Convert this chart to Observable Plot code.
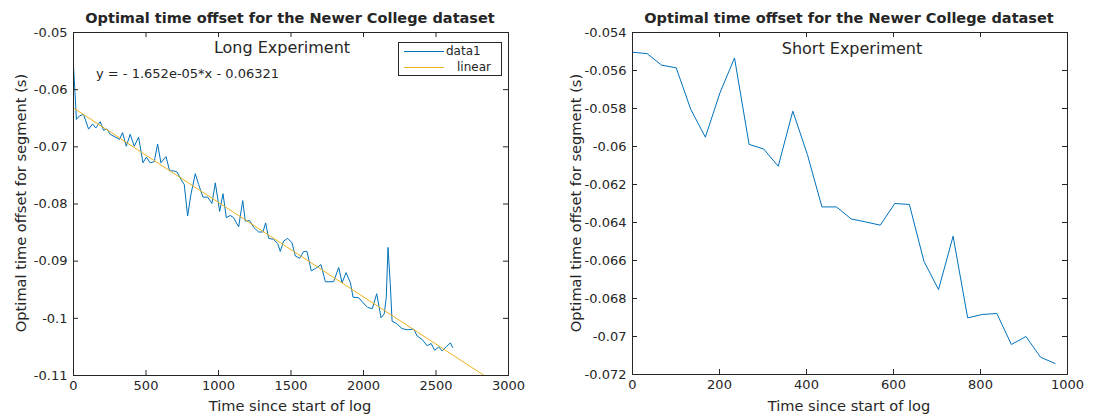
<!DOCTYPE html>
<html>
<head>
<meta charset="utf-8">
<script src="https://cdn.jsdelivr.net/npm/d3@7"></script>
<script src="https://cdn.jsdelivr.net/npm/@observablehq/plot@0.6"></script>
<style>
  html, body { margin: 0; padding: 0; background: #fff; }
  #root { position: relative; width: 1120px; height: 420px; background: #fff; font-family: "DejaVu Sans", sans-serif; color: #262626; overflow: hidden; }
  #root svg { position: absolute; top: 0; }
  .t { position: absolute; white-space: nowrap; }
  .title { font-weight: bold; font-size: 14.5px; line-height: 18px; transform: translateX(-50%); }
  .xlab { font-size: 14.6px; line-height: 18px; transform: translateX(-50%); }
  .ylab { font-size: 14.6px; line-height: 18px; transform: translate(-50%, -50%) rotate(-90deg); }
  .ann { font-size: 16px; line-height: 20px; transform: translateX(-50%); }
  .eq { font-size: 13px; line-height: 16px; }
  .legend { position: absolute; border: 1px solid #262626; background: #fff; box-sizing: border-box; }
  .sw { position: absolute; height: 0; border-top: 1px solid; }
  .lt { position: absolute; font-size: 12px; line-height: 14px; }
</style>
</head>
<body>
<div id="root"></div>
<script>
// ---- Data ----
const longX = [0, 10, 20, 41, 69, 104, 131, 154, 184, 207, 230, 253, 288, 318, 338, 364, 391, 419, 449, 479,
  502, 529, 557, 580, 603, 638, 663, 690, 714, 741, 764, 787, 810, 840, 863, 893, 925, 955, 978, 1008,
  1031, 1054, 1081, 1104, 1139, 1167, 1185, 1215, 1243, 1277, 1307, 1325, 1346, 1380, 1408, 1426, 1449, 1477, 1507, 1530,
  1560, 1587, 1610, 1640, 1668, 1707, 1737, 1794, 1829, 1852, 1880, 1910, 1928, 1967, 1990, 2029, 2061, 2091, 2121, 2143,
  2157, 2169, 2185, 2197, 2227, 2266, 2301, 2347, 2370, 2405, 2439, 2467, 2491, 2519, 2542, 2570, 2599, 2615];
const longY = [-0.0559, -0.0603, -0.0652, -0.0646, -0.0643, -0.0669, -0.0660, -0.0667, -0.0656, -0.0671, -0.0669, -0.0678, -0.0683, -0.0687, -0.0675, -0.0699, -0.0678, -0.0699, -0.0683, -0.0728,
  -0.0718, -0.0728, -0.0726, -0.0695, -0.0728, -0.0717, -0.0742, -0.0742, -0.0744, -0.0757, -0.0766, -0.0821, -0.0783, -0.0747, -0.0766, -0.0788, -0.0788, -0.0799, -0.0763, -0.0813,
  -0.0782, -0.0824, -0.0820, -0.0824, -0.0840, -0.0794, -0.0830, -0.0829, -0.0841, -0.0849, -0.0849, -0.0833, -0.0860, -0.0862, -0.0869, -0.0883, -0.0865, -0.0860, -0.0868, -0.0891,
  -0.0895, -0.0883, -0.0883, -0.0917, -0.0913, -0.0906, -0.0936, -0.0936, -0.0911, -0.0938, -0.0920, -0.0938, -0.0963, -0.0964, -0.0971, -0.0981, -0.0983, -0.0957, -0.0999, -0.0992,
  -0.0964, -0.0876, -0.0941, -0.1005, -0.1009, -0.1018, -0.1020, -0.1019, -0.1031, -0.1037, -0.1048, -0.1044, -0.1056, -0.1050, -0.1057, -0.1050, -0.1043, -0.1051];

const fitSlope = -1.652e-05;
const fitIntercept = -0.06321;
const fitRange = [0, 3000];

const shortX = [0, 33.5, 67, 100.5, 134, 167.5, 201, 234.5, 268, 301.5, 335, 368.5, 402, 435.5, 469,
  502.5, 536, 569.5, 603, 636.5, 670, 703.5, 737, 770.5, 804, 837.5, 871, 904.5, 938, 971.5];
const shortY = [-0.05504, -0.05511, -0.05572, -0.05586, -0.05805, -0.05951, -0.05718, -0.05534, -0.05989, -0.06013, -0.06104, -0.05814, -0.06042, -0.06318, -0.06318,
  -0.06381, -0.06397, -0.06414, -0.06300, -0.06305, -0.06604, -0.06753, -0.06472, -0.06902, -0.06884, -0.06879, -0.07042, -0.07000, -0.07109, -0.07142];

const longXTicks = [0, 500, 1000, 1500, 2000, 2500, 3000];
const longYTicks = [-0.11, -0.1, -0.09, -0.08, -0.07, -0.06, -0.05];
const shortXTicks = [0, 200, 400, 600, 800, 1000];
const shortYTicks = [-0.072, -0.07, -0.068, -0.066, -0.064, -0.062, -0.06, -0.058, -0.056, -0.054];

const titleText = "Optimal time offset for the Newer College dataset";
const xLabelText = "Time since start of log";
const yLabelText = "Optimal time offset for segment (s)";
const legendLabels = ["data1", "linear"];

// ---- Styles ----
const BLUE = "#0072BD", GOLD = "#EDB120", INK = "#262626";
const fmt = d => String(+(+d).toFixed(4));

function panel({mL, mR, mT, mB, xDomain, yDomain, xTicks, yTicks, marks}) {
  const W = 560, H = 420;
  const iw = W - mL - mR, ih = H - mT - mB;
  return Plot.plot({
    width: W, height: H,
    marginLeft: mL, marginRight: mR, marginTop: mT, marginBottom: mB,
    x: {domain: xDomain},
    y: {domain: yDomain},
    style: {fontFamily: "DejaVu Sans", fontSize: "13px", color: INK, background: "transparent", overflow: "visible"},
    marks: [
      ...marks,
      Plot.frame({stroke: INK, strokeWidth: 1}),
      Plot.ruleX(xTicks, {x: d => d, insetTop: ih - 5, stroke: INK}),
      Plot.ruleX(xTicks, {x: d => d, insetBottom: ih - 5, stroke: INK}),
      Plot.ruleY(yTicks, {y: d => d, insetRight: iw - 5, stroke: INK}),
      Plot.ruleY(yTicks, {y: d => d, insetLeft: iw - 5, stroke: INK}),
      Plot.axisX({ticks: xTicks, tickSize: 0, tickPadding: 5, tickFormat: fmt, label: null, fill: INK}),
      Plot.axisY({ticks: yTicks, tickSize: 0, tickPadding: 6, tickFormat: fmt, label: null, fill: INK})
    ]
  });
}

const longData = longX.map((x, i) => ({x, y: longY[i]}));
const fitData = fitRange.map(x => ({x, y: fitSlope * x + fitIntercept}));
const shortData = shortX.map((x, i) => ({x, y: shortY[i]}));

const root = document.getElementById("root");

const left = panel({
  mL: 73, mR: 52, mT: 32, mB: 45,
  xDomain: [0, 3000], yDomain: [-0.11, -0.05],
  xTicks: longXTicks, yTicks: longYTicks,
  marks: [
    Plot.line(longData, {x: "x", y: "y", stroke: BLUE, strokeWidth: 1}),
    Plot.line(fitData, {x: "x", y: "y", stroke: GOLD, strokeWidth: 1, clip: true})
  ]
});
left.style.left = "0px";
root.appendChild(left);

const right = panel({
  mL: 72, mR: 53, mT: 32, mB: 46,
  xDomain: [0, 1000], yDomain: [-0.072, -0.054],
  xTicks: shortXTicks, yTicks: shortYTicks,
  marks: [
    Plot.line(shortData, {x: "x", y: "y", stroke: BLUE, strokeWidth: 1})
  ]
});
right.style.left = "560px";
root.appendChild(right);

function addText(cls, text, x, y) {
  const d = document.createElement("div");
  d.className = "t " + cls;
  d.textContent = text;
  d.style.left = x + "px";
  d.style.top = y + "px";
  root.appendChild(d);
  return d;
}

// titles
addText("title", titleText, 290, 9);
addText("title", titleText, 849, 9);
// x labels
addText("xlab", xLabelText, 290, 397);
addText("xlab", xLabelText, 849, 397);
// y labels
addText("ylab", yLabelText, 21, 203);
addText("ylab", yLabelText, 576, 203);
// annotations
addText("ann", "Long Experiment", 282, 38);
addText("ann", "Short Experiment", 852, 39);
addText("eq", "y = - 1.652e-05*x - 0.06321", 96, 66);

// legend
const lg = document.createElement("div");
lg.className = "legend";
Object.assign(lg.style, {left: "398px", top: "42px", width: "104px", height: "34px"});
root.appendChild(lg);
const sw1 = document.createElement("div"); sw1.className = "sw";
Object.assign(sw1.style, {left: "5px", top: "8px", width: "40px", borderColor: BLUE});
const sw2 = document.createElement("div"); sw2.className = "sw";
Object.assign(sw2.style, {left: "5px", top: "24px", width: "40px", borderColor: GOLD});
const l1 = document.createElement("div"); l1.className = "lt"; l1.textContent = legendLabels[0];
Object.assign(l1.style, {left: "47px", top: "1px"});
const l2 = document.createElement("div"); l2.className = "lt"; l2.textContent = legendLabels[1];
Object.assign(l2.style, {left: "58px", top: "17px"});
lg.append(sw1, sw2, l1, l2);
</script>
</body>
</html>
